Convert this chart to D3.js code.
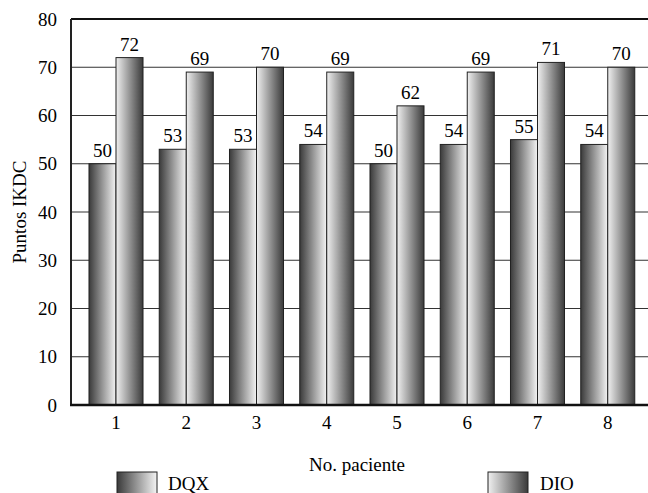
<!DOCTYPE html>
<html>
<head>
<meta charset="utf-8">
<script src="https://cdn.jsdelivr.net/npm/d3@7"></script>
<style>
  body { margin: 0; background: #fff; }
  text { font-family: "Liberation Serif", "Times New Roman", serif; fill: #000; }
</style>
</head>
<body>
<div id="chart"></div>
<script>
// data
const patients = ["1", "2", "3", "4", "5", "6", "7", "8"];
const dqx = [50, 53, 53, 54, 50, 54, 55, 54];
const dio = [72, 69, 70, 69, 62, 69, 71, 70];
const yTicks = [0, 10, 20, 30, 40, 50, 60, 70, 80];

const W = 648, H = 493;
const plotLeft = 71, plotTop = 19, plotBottom = 405, plotRight = 648;

const svg = d3.select("#chart").append("svg")
  .attr("width", W)
  .attr("height", H);

// gradients for the bars
const defs = svg.append("defs");
const gDqx = defs.append("linearGradient").attr("id", "gDqx")
  .attr("x1", "0%").attr("x2", "100%").attr("y1", "0%").attr("y2", "0%");
gDqx.append("stop").attr("offset", "0%").attr("stop-color", "#3a3a3a");
gDqx.append("stop").attr("offset", "100%").attr("stop-color", "#f4f4f4");
const gDio = defs.append("linearGradient").attr("id", "gDio")
  .attr("x1", "0%").attr("x2", "100%").attr("y1", "0%").attr("y2", "0%");
gDio.append("stop").attr("offset", "0%").attr("stop-color", "#f0f0f0");
gDio.append("stop").attr("offset", "100%").attr("stop-color", "#3a3a3a");

// scales
const step = 70.25;
const x = d3.scaleBand()
  .domain(patients)
  .range([116 - step / 2, 116 - step / 2 + step * patients.length])
  .paddingInner(0.231)
  .paddingOuter(0.1155);

const y = d3.scaleLinear().domain([0, 80]).range([plotBottom, plotTop]);

// grid lines
svg.append("g").selectAll("line")
  .data(yTicks.filter(d => d > 0 && d < 80))
  .enter().append("line")
  .attr("x1", plotLeft).attr("x2", plotRight)
  .attr("y1", d => y(d)).attr("y2", d => y(d))
  .attr("stroke", "#333").attr("stroke-width", 1.2);

// top border line
svg.append("line")
  .attr("x1", plotLeft).attr("x2", plotRight)
  .attr("y1", y(80)).attr("y2", y(80))
  .attr("stroke", "#111").attr("stroke-width", 2);

// y axis
const yAxis = svg.append("g")
  .attr("transform", `translate(${plotLeft},0)`)
  .call(d3.axisLeft(y).tickValues(yTicks).tickSize(0).tickPadding(14));
yAxis.select(".domain").remove();
yAxis.selectAll("text")
  .style("font-family", "Liberation Serif, Times New Roman, serif")
  .style("font-size", "19px")
  .attr("fill", "#000");

// bars
const inner = x.bandwidth() / 2;
const groups = svg.append("g").selectAll("g")
  .data(patients)
  .enter().append("g")
  .attr("transform", d => `translate(${x(d)},0)`);

groups.append("rect")
  .attr("x", 0)
  .attr("y", (d, i) => y(dqx[i]))
  .attr("width", inner)
  .attr("height", (d, i) => y(0) - y(dqx[i]))
  .attr("fill", "url(#gDqx)")
  .attr("stroke", "#222").attr("stroke-width", 1);

groups.append("rect")
  .attr("x", inner)
  .attr("y", (d, i) => y(dio[i]))
  .attr("width", inner)
  .attr("height", (d, i) => y(0) - y(dio[i]))
  .attr("fill", "url(#gDio)")
  .attr("stroke", "#222").attr("stroke-width", 1);

// value labels
groups.append("text")
  .attr("x", inner / 2)
  .attr("y", (d, i) => y(dqx[i]) - 7)
  .attr("text-anchor", "middle")
  .attr("font-size", "19px")
  .text((d, i) => dqx[i]);

groups.append("text")
  .attr("x", inner * 1.5)
  .attr("y", (d, i) => y(dio[i]) - 7)
  .attr("text-anchor", "middle")
  .attr("font-size", "19px")
  .text((d, i) => dio[i]);

// left axis line and baseline
svg.append("line")
  .attr("x1", plotLeft).attr("x2", plotLeft)
  .attr("y1", y(80)).attr("y2", y(0))
  .attr("stroke", "#222").attr("stroke-width", 2);
svg.append("line")
  .attr("x1", plotLeft - 1).attr("x2", plotRight)
  .attr("y1", y(0)).attr("y2", y(0))
  .attr("stroke", "#111").attr("stroke-width", 2.5);

// x axis labels
const xAxis = svg.append("g")
  .attr("transform", `translate(0,${plotBottom})`)
  .call(d3.axisBottom(x).tickSize(0).tickPadding(11));
xAxis.select(".domain").remove();
xAxis.selectAll("text")
  .style("font-family", "Liberation Serif, Times New Roman, serif")
  .style("font-size", "19px")
  .attr("fill", "#000");

// axis titles
svg.append("text")
  .attr("x", 357).attr("y", 471)
  .attr("text-anchor", "middle")
  .attr("font-size", "19px")
  .text("No. paciente");

svg.append("text")
  .attr("transform", "translate(26,212) rotate(-90)")
  .attr("text-anchor", "middle")
  .attr("font-size", "19px")
  .text("Puntos IKDC");

// legend
const legend = [
  { name: "DQX", fill: "url(#gDqx)", bx: 117, tx: 168 },
  { name: "DIO", fill: "url(#gDio)", bx: 488, tx: 540 }
];
const lg = svg.append("g").selectAll("g").data(legend).enter().append("g");
lg.append("rect")
  .attr("x", d => d.bx).attr("y", 472)
  .attr("width", 40).attr("height", 26)
  .attr("fill", d => d.fill)
  .attr("stroke", "#222").attr("stroke-width", 1);
lg.append("text")
  .attr("x", d => d.tx).attr("y", 490)
  .attr("font-size", "19px")
  .text(d => d.name);
</script>
</body>
</html>
